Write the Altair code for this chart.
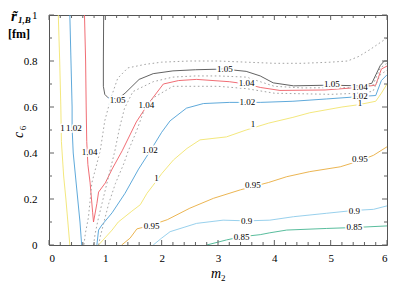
import altair as alt
import pandas as pd

# ---------------- contour lines (m2, c6) ----------------
yel_l_m = [0.165, 0.19, 0.21, 0.22, 0.26, 0.30, 0.37]
yel_l_c = [1.0, 0.8, 0.6, 0.45, 0.30, 0.20, 0.0]
yel_r_m = [0.88, 1.12, 1.23, 1.47, 1.62, 1.74, 1.85, 2.0, 2.21, 2.45, 2.68, 3.15, 3.5, 3.9, 4.33, 4.63, 5.2, 5.5, 5.8, 5.9, 6.0]
yel_r_c = [0.0, 0.065, 0.10, 0.147, 0.175, 0.225, 0.26, 0.31, 0.37, 0.42, 0.457, 0.47, 0.50, 0.53, 0.555, 0.575, 0.60, 0.61, 0.625, 0.66, 0.70]

blu_l_m = [0.37, 0.39, 0.41, 0.41, 0.43, 0.47, 0.51, 0.55, 0.58]
blu_l_c = [1.0, 0.8, 0.6, 0.51, 0.40, 0.30, 0.20, 0.10, 0.0]
blu_r_m = [0.85, 0.88, 0.94, 1.12, 1.35, 1.59, 1.8, 2.0, 2.15, 2.44, 2.74, 3.2, 3.75, 4.33, 4.93, 5.5, 5.8, 5.9, 6.0]
blu_r_c = [0.0, 0.065, 0.087, 0.14, 0.225, 0.33, 0.41, 0.49, 0.54, 0.595, 0.615, 0.62, 0.62, 0.625, 0.635, 0.645, 0.65, 0.715, 0.74]

red_m = [0.63, 0.65, 0.66, 0.67, 0.69, 0.73, 0.775, 0.79, 0.85, 0.88, 1.0, 1.12, 1.3, 1.55, 1.75, 2.03, 2.3, 2.62, 3.2, 3.5, 3.75, 4.1, 4.9, 5.5, 5.8, 5.9, 6.0]
red_c = [1.0, 0.8, 0.6, 0.45, 0.35, 0.27, 0.14, 0.10, 0.18, 0.23, 0.27, 0.33, 0.41, 0.535, 0.61, 0.70, 0.715, 0.72, 0.71, 0.70, 0.685, 0.672, 0.674, 0.685, 0.695, 0.765, 0.778]

blk_m = [0.97, 0.965, 0.965, 0.99, 1.05, 1.22, 1.35, 1.6, 1.85, 2.2, 2.6, 3.1, 3.5, 3.75, 3.98, 4.34, 5.0, 5.5, 5.73, 5.88, 5.95, 6.0]
blk_c = [1.0, 0.8, 0.69, 0.655, 0.64, 0.635, 0.66, 0.72, 0.745, 0.757, 0.762, 0.765, 0.755, 0.735, 0.705, 0.692, 0.695, 0.692, 0.703, 0.78, 0.80, 0.80]

org_m = [1.29, 1.44, 1.56, 1.8, 2.1, 2.5, 2.92, 3.4, 3.9, 4.22, 4.63, 5.17, 5.5, 5.76, 6.0]
org_c = [0.0, 0.03, 0.07, 0.085, 0.11, 0.16, 0.203, 0.24, 0.272, 0.297, 0.319, 0.34, 0.365, 0.39, 0.427]

lbl_m = [1.85, 2.0, 2.15, 2.62, 3.09, 3.5, 3.92, 4.34, 4.93, 5.4, 5.76, 6.0]
lbl_c = [0.0, 0.03, 0.058, 0.094, 0.108, 0.105, 0.108, 0.123, 0.138, 0.15, 0.155, 0.17]

grn_m = [2.8, 3.15, 3.42, 3.75, 3.92, 4.22, 4.93, 5.42, 6.0]
grn_c = [0.0, 0.022, 0.036, 0.045, 0.053, 0.065, 0.072, 0.076, 0.083]

# dotted (gray) contours
d1_m = [6.0, 5.85, 5.7, 5.5, 5.3, 5.0, 4.5, 4.0, 3.5, 3.0, 2.5, 2.0, 1.7, 1.4, 1.22, 1.1, 0.99, 0.91, 0.76, 0.70, 0.645, 0.62]
d1_c = [0.90, 0.875, 0.85, 0.82, 0.80, 0.795, 0.79, 0.79, 0.795, 0.80, 0.80, 0.795, 0.785, 0.77, 0.725, 0.64, 0.54, 0.41, 0.27, 0.12, 0.05, 0.0]
d2_m = [0.79, 0.82, 0.88, 0.94, 1.06, 1.17, 1.25, 1.34, 1.49, 1.85, 2.2, 2.6, 3.0, 3.5, 3.75, 4.0, 4.5, 5.0, 5.5, 5.75, 5.88, 6.0]
d2_c = [0.0, 0.05, 0.12, 0.18, 0.30, 0.41, 0.507, 0.594, 0.667, 0.71, 0.73, 0.735, 0.735, 0.73, 0.71, 0.69, 0.683, 0.684, 0.684, 0.695, 0.77, 0.79]
d3_m = [0.88, 0.91, 0.97, 1.06, 1.18, 1.33, 1.40, 1.55, 1.70, 1.85, 2.2, 3.0, 3.5, 4.0, 5.0, 5.5, 5.75, 5.88, 6.0]
d3_c = [0.0, 0.036, 0.094, 0.18, 0.268, 0.355, 0.405, 0.493, 0.594, 0.64, 0.69, 0.69, 0.68, 0.66, 0.655, 0.66, 0.668, 0.74, 0.76]

# contour labels
lab_txt = ["1", "1.02", "1.04", "1.05", "1.04", "1.02", "1", "0.95",
           "1.05", "1.04", "1.02", "1", "0.95", "0.9", "0.85",
           "1.05", "1.04", "1.02", "1", "0.95", "0.9", "0.85"]
lab_m = [0.24, 0.44, 0.72, 1.22, 1.73, 1.79, 1.91, 1.82,
         3.12, 3.51, 3.52, 3.62, 3.62, 3.51, 3.42,
         5.02, 5.52, 5.52, 5.52, 5.52, 5.42, 5.42]
lab_c = [0.51, 0.51, 0.405, 0.63, 0.61, 0.413, 0.29, 0.083,
         0.765, 0.703, 0.623, 0.526, 0.261, 0.104, 0.036,
         0.699, 0.686, 0.648, 0.616, 0.373, 0.149, 0.077]

x_major = [0, 1, 2, 3, 4, 5, 6]
x_minor = [i / 5 for i in range(31) if i % 5]
y_major = [0, 0.2, 0.4, 0.6, 0.8, 1]
y_minor = [i / 10 for i in range(1, 10, 2)]

# titles / annotation texts
title_txt = ["m", "2", "c", "6", "r\u0303", "1,B", "[fm]"]

W, H = 338, 230
SERIF = "Liberation Serif"

solid = [("yl", yel_l_m, yel_l_c, "y"), ("yr", yel_r_m, yel_r_c, "y"),
         ("bl", blu_l_m, blu_l_c, "b"), ("br", blu_r_m, blu_r_c, "b"),
         ("r", red_m, red_c, "r"), ("k", blk_m, blk_c, "k"),
         ("o", org_m, org_c, "o"), ("lb", lbl_m, lbl_c, "lb"), ("g", grn_m, grn_c, "g")]
rows = []
for name, ms, cs, col in solid:
    for i, (m, c) in enumerate(zip(ms, cs)):
        rows.append({"curve": name, "col": col, "m2": m, "c6": c, "i": i})
df_solid = pd.DataFrame(rows)

rows = []
for name, ms, cs in [("d1", d1_m, d1_c), ("d2", d2_m, d2_c), ("d3", d3_m, d3_c)]:
    for i, (m, c) in enumerate(zip(ms, cs)):
        rows.append({"curve": name, "m2": m, "c6": c, "i": i})
df_dot = pd.DataFrame(rows)

df_lab = pd.DataFrame({"t": lab_txt, "m2": lab_m, "c6": lab_c})

xs = alt.Scale(domain=[0, 6], nice=False, zero=False)
ys = alt.Scale(domain=[0, 1], nice=False, zero=False)

xax = alt.Axis(values=x_major, ticks=False, tickSize=0, domain=False, grid=False,
               labelFont=SERIF, labelFontSize=11, labelColor="black", labelPadding=7,
               labelExpr="datum.value", title="")
yax = alt.Axis(values=y_major, ticks=False, tickSize=0, domain=False, grid=False,
               labelFont=SERIF, labelFontSize=11, labelColor="black", labelPadding=12,
               labelExpr="datum.value", title="")

colors = alt.Scale(domain=["y", "b", "r", "k", "o", "lb", "g"],
                   range=["#f2e46e", "#4d9fd6", "#ee5c64", "#505050", "#e9ad3e", "#8ccbea", "#46b592"])

lines = alt.Chart(df_solid).mark_line(strokeWidth=0.9, clip=True).encode(
    x=alt.X("m2:Q", scale=xs, axis=xax),
    y=alt.Y("c6:Q", scale=ys, axis=yax),
    color=alt.Color("col:N", scale=colors, legend=None),
    detail="curve:N",
    order="i:Q",
)
dots = alt.Chart(df_dot).mark_line(strokeWidth=0.9, strokeDash=[1.6, 2.6], color="#9a9a9a", clip=True).encode(
    x=alt.X("m2:Q", scale=xs), y=alt.Y("c6:Q", scale=ys), detail="curve:N", order="i:Q")

halo = alt.Chart(df_lab).mark_text(font=SERIF, fontSize=9, stroke="white", strokeWidth=3.5,
                                    color="white", baseline="middle").encode(
    x=alt.X("m2:Q", scale=xs), y=alt.Y("c6:Q", scale=ys), text="t:N")
labs = alt.Chart(df_lab).mark_text(font=SERIF, fontSize=9, color="black", baseline="middle").encode(
    x=alt.X("m2:Q", scale=xs), y=alt.Y("c6:Q", scale=ys), text="t:N")

TC = "#606060"
def xt(vals, y0, y1):
    return alt.Chart(pd.DataFrame({"v": vals})).mark_rule(color=TC, strokeWidth=1).encode(
        x=alt.X("v:Q", scale=xs), y=alt.value(y0), y2=alt.value(y1))
def yt(vals, x0, x1):
    return alt.Chart(pd.DataFrame({"v": vals})).mark_rule(color=TC, strokeWidth=1).encode(
        y=alt.Y("v:Q", scale=ys), x=alt.value(x0), x2=alt.value(x1))

ticks = [xt(x_major, H, H - 5), xt(x_minor, H, H - 3), xt(x_major, 0, 5), xt(x_minor, 0, 3),
         yt(y_major, 0, 5), yt(y_minor, 0, 3), yt(y_major, W, W - 5), yt(y_minor, W, W - 3)]

def txt(t, x, y, size, style="normal", weight="normal", align="center", angle=0):
    return alt.Chart(pd.DataFrame({"t": [t]})).mark_text(
        font=SERIF, fontSize=size, fontStyle=style, fontWeight=weight, align=align,
        baseline="alphabetic", angle=angle, color="black").encode(
        x=alt.value(x), y=alt.value(y), text="t:N")

ann = [
    txt(title_txt[0], 167, 263, 14, style="italic"),
    txt(title_txt[1], 172, 266, 9, align="left"),
    txt(title_txt[2], -26, 120, 14, style="italic", angle=270),
    txt(title_txt[3], -23, 113, 9, angle=270),
    txt(title_txt[4], -35, 6, 15, style="italic", weight="bold"),
    txt(title_txt[5], -31, 8, 9, style="italic", weight="bold", align="left"),
    txt(title_txt[6], -41, 23, 12, weight="bold", align="left"),
]

chart = alt.layer(lines, dots, halo, labs, *ticks, *ann).properties(
    width=W, height=H,
    autosize=alt.AutoSizeParams(type="none"),
    padding={"left": 41, "top": 7, "right": 12, "bottom": 40},
).configure_view(stroke="#555555", strokeWidth=1)

chart.save("out.html", embed_options={"renderer": "svg", "actions": False})
